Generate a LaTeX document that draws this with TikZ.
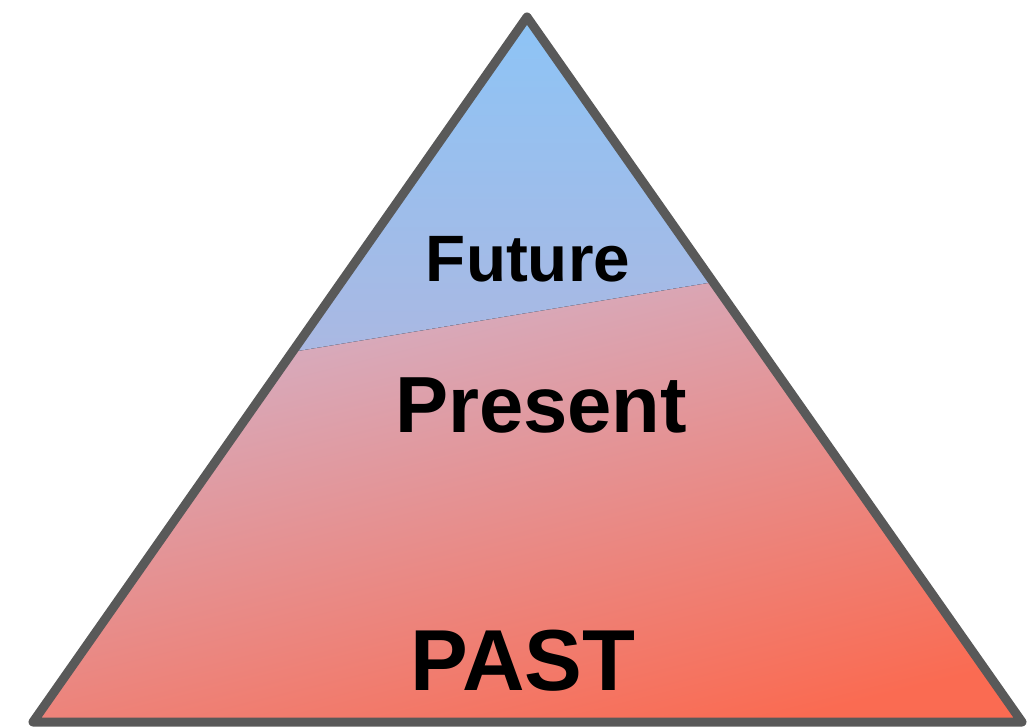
\documentclass[tikz,border=0pt]{standalone}
\usepackage{fontspec}
\setmainfont{Liberation Sans}
\usetikzlibrary{calc}
\definecolor{bordergray}{HTML}{595959}
\definecolor{futuretop}{HTML}{8DC4F6}
\definecolor{futurebot}{HTML}{AAB8E2}
\definecolor{pasttop}{HTML}{D2B4CC}
\definecolor{pastbot}{HTML}{FA6B52}
\tikzset{layertext/.style={font=\bfseries, text=black, anchor=base, inner sep=0pt}}

\begin{document}
\begin{tikzpicture}[x=1pt,y=-1pt]
\useasboundingbox (0,0) rectangle (1036,727);
\coordinate (apex) at (527,17);
\coordinate (bl) at (33,722);
\coordinate (br) at (1022,722);
\coordinate (divl) at ($(apex)!0.475!(bl)$);
\coordinate (divr) at ($(apex)!0.376!(br)$);
% lower layer, a little under the upper one so no seam shows
\fill[top color=pasttop, bottom color=pastbot, shading angle=14]
  ($(apex)!0.465!(bl)$)--(bl)--(br)--($(apex)!0.366!(br)$)--cycle;
% upper layer
\fill[top color=futuretop, bottom color=futurebot] (apex)--(divl)--(divr)--cycle;
\draw[bordergray, line width=9pt, line join=round] (apex)--(bl)--(br)--cycle;
\node[layertext, font=\bfseries\fontsize{65.6}{70}\selectfont] (future) at (528,282) {Future};
\node[layertext, font=\bfseries\fontsize{79.6}{84}\selectfont] (present) at (541,432) {Present};
\node[layertext, font=\bfseries\fontsize{86.6}{90}\selectfont] (past) at (523,690) {PAST};
\end{tikzpicture}
\end{document}
